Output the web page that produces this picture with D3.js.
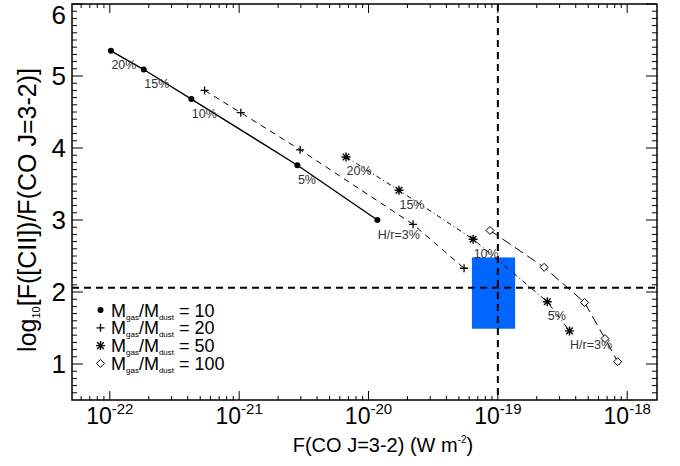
<!DOCTYPE html>
<html><head><meta charset="utf-8">
<script src="https://cdn.jsdelivr.net/npm/d3@7"></script>
<style>body{margin:0;background:#fff} svg{display:block} text{font-family:"Liberation Sans",Arial,Helvetica,sans-serif}</style>
</head><body><svg id="c" width="680" height="466"></svg>
<script>
// ---- data ----
const hrLabels = ["20%","15%","10%","5%","H/r=3%"];
const dotX = [1.02e-22,1.83e-22,4.27e-22,2.82e-21,1.17e-20];
const dotY = [5.35,5.09,4.68,3.76,3.00];
const plusX = [5.40e-22,1.03e-21,2.96e-21,2.21e-20,5.48e-20];
const plusY = [4.80,4.49,3.975,2.94,2.33];
const starX = [6.70e-21,1.72e-20,6.44e-20,2.41e-19,3.58e-19];
const starY = [3.876,3.413,2.733,1.865,1.46];
const diaX = [8.69e-20,2.28e-19,4.68e-19,6.74e-19,8.45e-19];
const diaY = [2.855,2.343,1.855,1.353,1.032];
const boxX = [6.3e-20,1.36e-19];
const boxY = [1.49,2.48];
const refX = 1e-19;
const refY = 2.06;
const xTickExp = [-22,-21,-20,-19,-18];
const yTicks = [1,2,3,4,5,6];
const legendRatios = ["10","20","50","100"];
const xDomain = [5.1e-23,1.7e-18];
const yDomain = [0.5,6];

// ---- layout ----
const W=680,H=466, L=72, T=4, R=657, B=400;
const svg=d3.select("#c");
const x=d3.scaleLog().domain(xDomain).range([L,R]);
const y=d3.scaleLinear().domain(yDomain).range([B,T]);

// blue box
svg.append("rect").attr("x",x(boxX[0])).attr("y",y(boxY[1]))
  .attr("width",x(boxX[1])-x(boxX[0])).attr("height",y(boxY[0])-y(boxY[1]))
  .attr("fill","#0066ff");

// reference lines
svg.append("line").attr("x1",L).attr("x2",R).attr("y1",y(refY)).attr("y2",y(refY))
  .attr("stroke","#000").attr("stroke-width",2).attr("stroke-dasharray","7,5");
svg.append("line").attr("x1",x(refX)).attr("x2",x(refX)).attr("y1",T).attr("y2",B)
  .attr("stroke","#000").attr("stroke-width",2).attr("stroke-dasharray","7,5");

// axes ticks
const minorX=[];
for(let e=-23;e<=-18;e++) for(let m=2;m<=9;m++){const v=m*Math.pow(10,e); if(v>=xDomain[0]&&v<=xDomain[1]) minorX.push(v);}
const majorX=xTickExp.map(e=>Math.pow(10,e));
const minorY=d3.range(5,61).map(d=>d/10).filter(v=>!yTicks.includes(v)&&v>yDomain[0]);
const tk=svg.append("g").attr("stroke","#000").attr("stroke-width",1);
function xt(vals,len){vals.forEach(v=>{const px=x(v);
  tk.append("line").attr("x1",px).attr("x2",px).attr("y1",B).attr("y2",B-len);
  tk.append("line").attr("x1",px).attr("x2",px).attr("y1",T).attr("y2",T+len);});}
function yt(vals,len){vals.forEach(v=>{const py=y(v);
  tk.append("line").attr("x1",L).attr("x2",L+len).attr("y1",py).attr("y2",py);
  tk.append("line").attr("x1",R).attr("x2",R-len).attr("y1",py).attr("y2",py);});}
xt(minorX,4); xt(majorX,9); yt(minorY,5); yt(yTicks,11);

// frame
svg.append("rect").attr("x",L).attr("y",T).attr("width",R-L).attr("height",B-T)
  .attr("fill","none").attr("stroke","#000").attr("stroke-width",1.5);

// tick labels
majorX.forEach((v,i)=>{
  const t=svg.append("text").attr("x",x(v)).attr("y",424).attr("text-anchor","middle").attr("font-size",23).attr("fill","#000");
  t.append("tspan").text("10");
  t.append("tspan").attr("dy",-10).attr("font-size",15).text(String(xTickExp[i]));
});
yTicks.forEach(v=>{
  svg.append("text").attr("x",66).attr("y",Math.max(y(v)+9,24)).attr("text-anchor","end").attr("font-size",26).attr("fill","#000").text(v);
});

// axis titles
const xl=svg.append("text").attr("x",383).attr("y",452).attr("text-anchor","middle").attr("font-size",20).attr("fill","#000");
xl.append("tspan").text("F(CO J=3-2) (W m");
xl.append("tspan").attr("dy",-9).attr("font-size",10).text("-2");
xl.append("tspan").attr("dy",9).text(")");
const yl=svg.append("text").attr("transform","translate(36,210) rotate(-90)").attr("text-anchor","middle").attr("font-size",25).attr("fill","#000");
yl.append("tspan").text("log");
yl.append("tspan").attr("dy",4).attr("font-size",11).text("10");
yl.append("tspan").attr("dy",-4).text("[F([CII])/F(CO J=3-2)]");

// series
const line=d3.line().x(d=>x(d[0])).y(d=>y(d[1]));
function series(X,Y,dash,w){
  const pts=X.map((v,i)=>[v,Y[i]]);
  svg.append("path").attr("d",line(pts)).attr("fill","none").attr("stroke","#000")
    .attr("stroke-width",w).attr("stroke-dasharray",dash);
  return pts;
}
const sym={
  dot:(g)=>g.append("circle").attr("r",3).attr("fill","#000"),
  plus:(g)=>g.append("path").attr("d","M-4,0H4M0,-4V4").attr("stroke","#000").attr("stroke-width",1.3),
  star:(g)=>g.append("path").attr("d","M-4.5,0H4.5M0,-4.5V4.5M-3.3,-3.3L3.3,3.3M-3.3,3.3L3.3,-3.3").attr("stroke","#000").attr("stroke-width",1.4),
  dia:(g)=>g.append("path").attr("d","M0,-4L4,0L0,4L-4,0Z").attr("fill","#fff").attr("stroke","#000").attr("stroke-width",1)
};
function marks(pts,s,labels){
  pts.forEach((p,i)=>{
    const g=svg.append("g").attr("transform",`translate(${x(p[0])},${y(p[1])})`);
    sym[s](g);
    if(labels) svg.append("text").attr("x",x(p[0])+0.5).attr("y",y(p[1])+18.5).attr("font-size",12.5).attr("fill","#333").text(labels[i]);
  });
}
const pd=series(dotX,dotY,null,1.4);
const pp=series(plusX,plusY,"6,5",1);
const ps=series(starX,starY,"5,3,1,3",1);
const pq=series(diaX,diaY,"10,5",1);
marks(pd,"dot",hrLabels);
marks(pp,"plus",null);
marks(ps,"star",hrLabels);
marks(pq,"dia",null);

// legend
const syms=["dot","plus","star","dia"];
legendRatios.forEach((r,i)=>{
  const cy=310+i*17.8;
  const g=svg.append("g").attr("transform",`translate(100.5,${cy})`);
  sym[syms[i]](g);
  const t=svg.append("text").attr("x",111).attr("y",cy+6.5).attr("font-size",18).attr("fill","#000");
  t.append("tspan").text("M");
  t.append("tspan").attr("dy",3).attr("font-size",8).text("gas");
  t.append("tspan").attr("dy",-3).text("/M");
  t.append("tspan").attr("dy",3).attr("font-size",8).text("dust");
  t.append("tspan").attr("dy",-3).text(" = "+r);
});
</script></body></html>
